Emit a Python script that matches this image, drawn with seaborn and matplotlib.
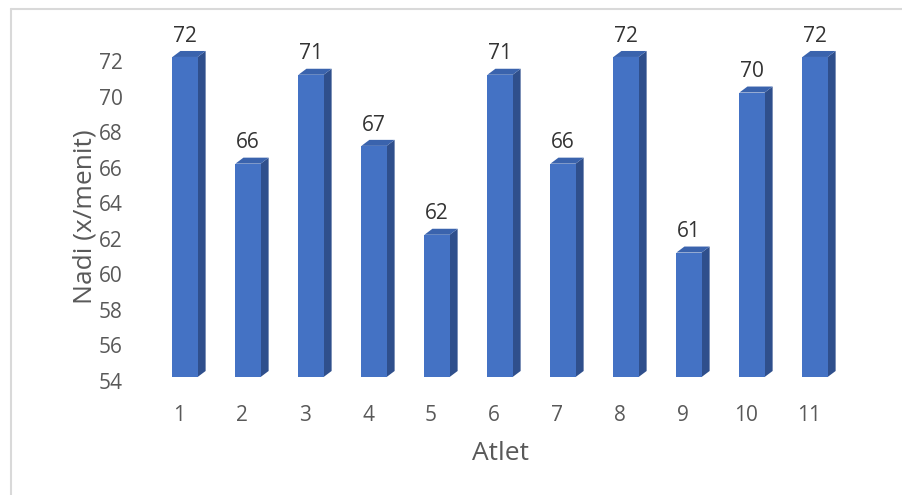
import matplotlib
matplotlib.use("Agg")
import matplotlib.pyplot as plt
import matplotlib.transforms as mtransforms
import seaborn as sns
import pandas as pd
from matplotlib.patches import Polygon
from matplotlib.lines import Line2D

atlet = ["1", "2", "3", "4", "5", "6", "7", "8", "9", "10", "11"]
nadi = [72, 66, 71, 67, 62, 71, 66, 72, 61, 70, 72]
y_ticks = [54, 56, 58, 60, 62, 64, 66, 68, 70, 72]

sns.set_theme(style="white")
plt.rcParams["font.family"] = ["Open Sans", "DejaVu Sans"]
TXT = "#595959"
FRONT = "#4472C4"
SIDE = "#2F4F8C"
TOP = "#3A63AD"

df = pd.DataFrame({"Atlet": atlet, "Nadi": nadi})

fig = plt.figure(figsize=(9.02, 4.95), dpi=100)
ax = fig.add_axes([0.1702, 0.2384, 0.7683, 0.6465])
sns.barplot(data=df, x="Atlet", y="Nadi", color=FRONT, saturation=1,
            width=0.4, ax=ax, zorder=3, linewidth=0, edgecolor="none")
ax.set_ylim(54, 72)
ax.set_xlim(-0.5, len(atlet) - 0.5)
ymin = ax.get_ylim()[0]

# 3D depth derived from axis scales (8 px right, 6 px up)
fig.canvas.draw()
bb = ax.get_window_extent()
px_per_x = bb.width / (ax.get_xlim()[1] - ax.get_xlim()[0])
px_per_y = bb.height / (ax.get_ylim()[1] - ax.get_ylim()[0])
dx = 8 / px_per_x
dy = 6 / px_per_y
for p in ax.patches:
    x0 = p.get_x(); w = p.get_width(); h = p.get_height()
    y0 = max(p.get_y(), ymin)
    x1 = x0 + w; y1 = p.get_y() + h
    side = Polygon([(x1, y0), (x1 + dx, y0 + dy), (x1 + dx, y1 + dy), (x1, y1)],
                   closed=True, facecolor=SIDE, edgecolor="none", zorder=2, clip_on=False)
    top = Polygon([(x0, y1), (x0 + dx, y1 + dy), (x1 + dx, y1 + dy), (x1, y1)],
                  closed=True, facecolor=TOP, edgecolor="none", zorder=2, clip_on=False)
    ax.add_patch(side); ax.add_patch(top)
    ax.annotate(f"{int(round(y1))}", xy=(x0 + w / 2, y1), xytext=(0, 15),
                textcoords="offset points", ha="center", va="center",
                fontsize=15, color="#333333")

ax.set_yticks(y_ticks)
ax.set_yticklabels([str(v) for v in y_ticks])
ax.tick_params(axis="both", length=0, labelsize=15, labelcolor=TXT)
ax.tick_params(axis="y", pad=22)
ax.tick_params(axis="x", pad=20)
yshift = mtransforms.ScaledTranslation(0, -4 / 100, fig.dpi_scale_trans)
for t in ax.yaxis.get_major_ticks():
    t.label1.set_transform(t.label1.get_transform() + yshift)
xshift = mtransforms.ScaledTranslation(-6 / 100, 0, fig.dpi_scale_trans)
for t in ax.xaxis.get_major_ticks():
    t.label1.set_transform(t.label1.get_transform() + xshift)
ax.set_xlabel("Atlet", fontsize=19, color=TXT, labelpad=11)
ax.set_ylabel("Nadi (x/menit)", fontsize=19, color=TXT, labelpad=1)
for s in ax.spines.values():
    s.set_visible(False)
ax.grid(False)

# chart frame (top and left edges)
fig.add_artist(Line2D([11 / 902, 1], [1 - 9 / 495, 1 - 9 / 495], transform=fig.transFigure,
                      color="#D9D9D9", lw=1.5))
fig.add_artist(Line2D([11 / 902, 11 / 902], [0, 1 - 9 / 495], transform=fig.transFigure,
                      color="#D9D9D9", lw=1.5))

fig.savefig("out.png", dpi=100, facecolor="white")
